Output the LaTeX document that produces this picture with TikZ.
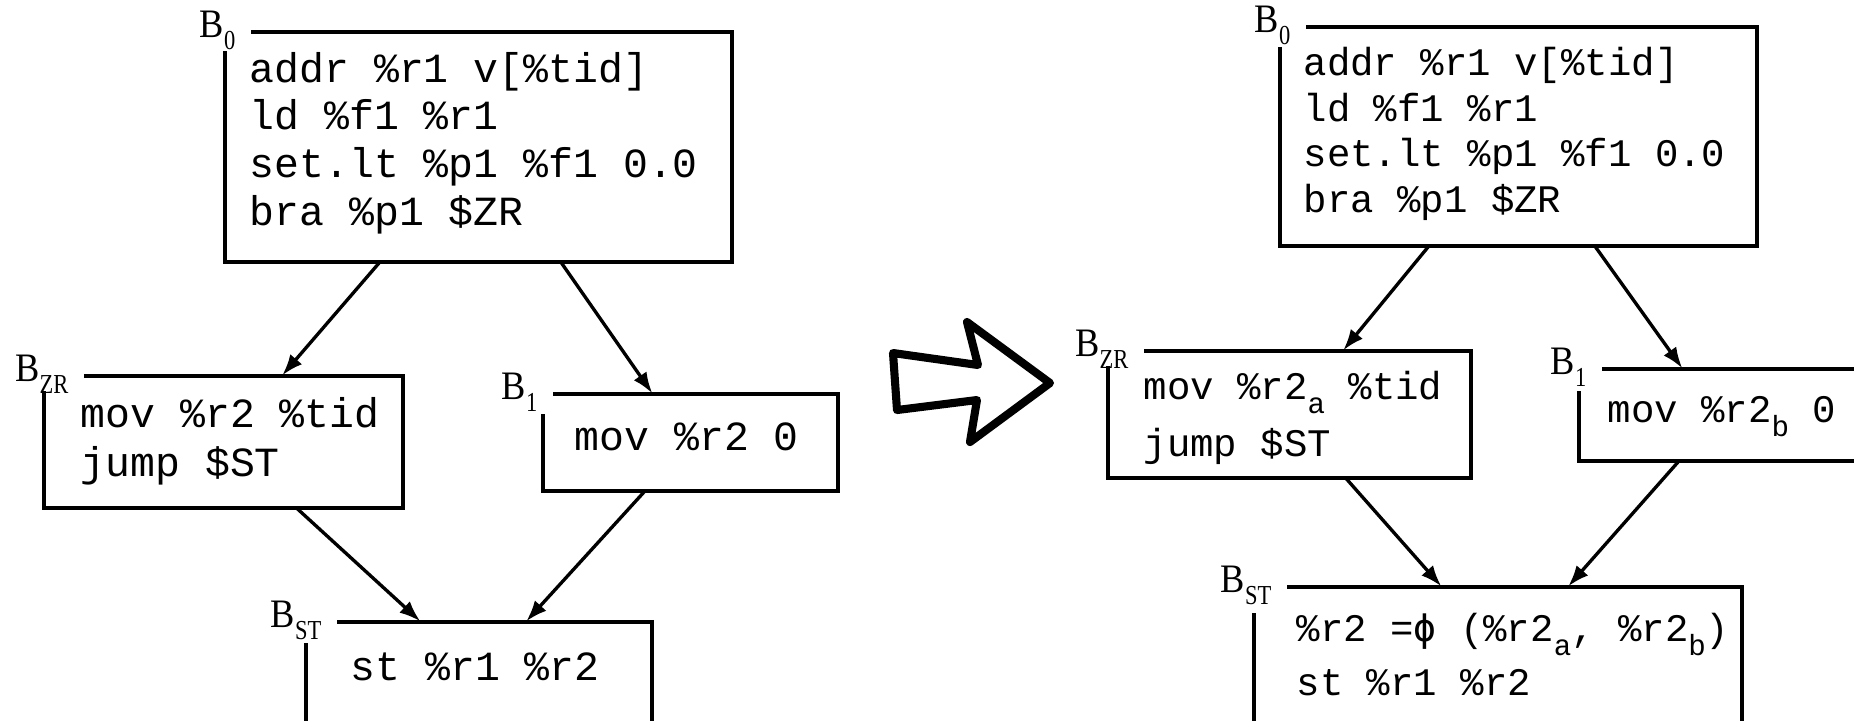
\documentclass[tikz,border=0pt]{standalone}
\usepackage{fontspec}
\setmainfont{Liberation Serif}
\newfontfamily\codefont{Liberation Mono}
\newfontfamily\phifont{DejaVu Sans Mono}
\usetikzlibrary{arrows.meta,calc}

\newcommand{\lsub}[1]{\raisebox{-3.6pt}{\fontsize{7.8}{7.8}\selectfont\scalebox{0.82}[1]{#1}}}
\newcommand{\csub}[1]{\raisebox{-4pt}{\fontsize{8.3}{8.3}\selectfont #1}}
\newcommand{\phisym}{{\phifont\fontsize{10.8}{13}\selectfont ϕ}}

% name, L, T, R, B, top-line start, left-line start, label subscript
\newcommand{\cfgbox}[8]{%
  \node[inner sep=0pt, minimum width={(#4-#2)*0.01cm}, minimum height={(#5-#3)*0.01cm}] (#1) at ({(#2+#4)/2},{(#3+#5)/2}) {};
  \draw[boxline] (#6,#3) -| (#4,#5) -| (#2,#7);
  \node[lbl] (#1l) at ({#6-15},{#3+5}) {\scalebox{0.9}[1]{B}\lsub{#8}};
}

\tikzset{
  lcode/.style={font={\codefont\fontsize{11.8}{13}\selectfont}, anchor=base west, inner sep=0pt},
  rcode/.style={font={\codefont\fontsize{11.1}{13}\selectfont}, anchor=base west, inner sep=0pt},
  lbl/.style={font={\fontsize{11.5}{12}\selectfont}, anchor=base east, inner sep=0pt},
  boxline/.style={line width=1pt},
  arr/.style={line width=0.95pt, -{Latex[length=6pt,width=4.4pt]}},
  bigarrow/.style={line width=2.3pt, line join=round},
}

\begin{document}
\begin{tikzpicture}[x=0.01cm,y=-0.01cm]
\useasboundingbox (0,0) rectangle (1854,720);
\clip (0,0) rectangle (1854,720);

% ---------------- left graph ----------------
\cfgbox{lb0}{225}{32}{732}{262}{251}{51}{0}
\node[lcode] (lb0a) at (249,82) {addr \%r1 v[\%tid]};
\node[lcode] (lb0b) at (249,129) {ld \%f1 \%r1};
\node[lcode] (lb0c) at (249,177) {set.lt \%p1 \%f1 0.0};
\node[lcode] (lb0d) at (249,225) {bra \%p1 \$ZR};

\cfgbox{lbzr}{44}{376}{403}{508}{84}{391}{ZR}
\node[lcode] (lbzra) at (80,427) {mov \%r2 \%tid};
\node[lcode] (lbzrb) at (80,476) {jump \$ST};

\cfgbox{lb1}{543}{394}{838}{491}{553}{414}{1}
\node[lcode] (lb1a) at (574,450) {mov \%r2 0};

\cfgbox{lbst}{306}{622}{652}{760}{337}{643}{ST}
\node[lcode] (lbsta) at (350,680) {st \%r1 \%r2};

\draw[arr] ($(lb0.south west)+(155,0)$) -- ($(lbzr.north west)+(239,0)$);
\draw[arr] ($(lb0.south west)+(337,0)$) -- ($(lb1.north west)+(110,0)$);
\draw[arr] ($(lbzr.south west)+(254,0)$) -- ($(lbst.north west)+(115,0)$);
\draw[arr] ($(lb1.south west)+(102,0)$) -- ($(lbst.north west)+(221,0)$);

% ---------------- transformation arrow ----------------
\draw[bigarrow] (893,353) -- (978,365) -- (967,322) -- (1050,383) -- (970,442) -- (977,400) -- (897,410) -- cycle;

% ---------------- right graph ----------------
\cfgbox{rb0}{1280}{27}{1757}{246}{1306}{47}{0}
\node[rcode] (rb0a) at (1303,75) {addr \%r1 v[\%tid]};
\node[rcode] (rb0b) at (1303,121) {ld \%f1 \%r1};
\node[rcode] (rb0c) at (1303,166) {set.lt \%p1 \%f1 0.0};
\node[rcode] (rb0d) at (1303,212) {bra \%p1 \$ZR};

\cfgbox{rbzr}{1108}{351}{1471}{478}{1144}{366}{ZR}
\node[rcode] (rbzra) at (1143,399) {mov \%r2\csub{a} \%tid};
\node[rcode] (rbzrb) at (1143,456) {jump \$ST};

\cfgbox{rb1}{1579}{369}{1900}{461}{1602}{391}{1}
\node[rcode] (rb1a) at (1607,422) {mov \%r2\csub{b} 0};

\cfgbox{rbst}{1254}{587}{1742}{760}{1287}{613}{ST}
\node[rcode] (rbsta) at (1296,641) {\%r2 =\phisym{} (\%r2\csub{a}, \%r2\csub{b})};
\node[rcode] (rbstb) at (1296,695) {st \%r1 \%r2};

\draw[arr] ($(rb0.south west)+(149,0)$) -- ($(rbzr.north west)+(236,0)$);
\draw[arr] ($(rb0.south west)+(316,0)$) -- ($(rb1.north west)+(104,0)$);
\draw[arr] ($(rbzr.south west)+(239,0)$) -- ($(rbst.north west)+(188,0)$);
\draw[arr] ($(rb1.south west)+(100,0)$) -- ($(rbst.north west)+(315,0)$);
\end{tikzpicture}
\end{document}
